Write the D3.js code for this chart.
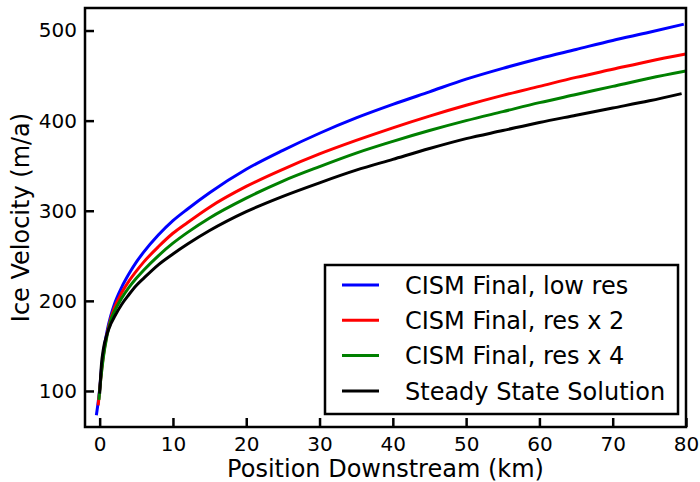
<!DOCTYPE html>
<html>
<head>
<meta charset="utf-8">
<script src="https://cdn.jsdelivr.net/npm/d3@7"></script>
<style>
  body { margin: 0; background: #fff; }
  text { font-family: "DejaVu Sans", sans-serif; }
</style>
</head>
<body>
<div id="chart"></div>
<script>
var w = 700, h = 482;
var margin = {left: 85, right: 14, top: 8, bottom: 55};

// data (km, m/a)
var xLow = [-0.45, 0, 0.25, 0.5, 1, 1.5, 2, 3, 4, 5, 6, 8, 10, 12, 15, 20, 25, 30, 35, 40, 45, 50, 55, 60, 65, 70, 75, 79.7];
var vLow = [73, 102, 125, 142, 166, 183, 196, 215, 230, 243, 254, 273, 289, 302, 320, 346, 367, 386, 403, 418, 432, 446, 458, 469, 479, 489, 498, 507];
var xRes2 = [-0.2, 0, 0.25, 0.5, 1, 1.5, 2, 3, 4, 5, 6, 8, 10, 12, 15, 20, 25, 30, 35, 40, 45, 50, 55, 60, 65, 70, 75, 80];
var vRes2 = [84, 101, 122, 139, 163, 180, 192, 209, 222, 233, 243, 260, 275, 287, 304, 327, 346, 363, 378, 392, 405, 417, 428, 438, 448, 457, 466, 474];
var xRes4 = [-0.1, 0, 0.25, 0.5, 1, 1.5, 2, 3, 4, 5, 6, 8, 10, 12, 15, 20, 25, 30, 35, 40, 45, 50, 55, 60, 65, 70, 75, 80];
var vRes4 = [90, 100, 120, 137, 161, 178, 188, 203, 215, 225, 234, 250, 264, 276, 292, 314, 333, 349, 364, 377, 389, 400, 410, 420, 429, 438, 447, 455];
var xSteady = [0, 0.25, 0.5, 1, 1.5, 2, 3, 4, 5, 6, 8, 10, 12, 15, 20, 25, 30, 35, 40, 45, 50, 55, 60, 65, 70, 75, 79.4];
var vSteady = [97, 130, 146, 163, 174, 182, 196, 207, 217, 225, 240, 252, 263, 278, 299, 316, 331, 345, 357, 369, 380, 389, 398, 406, 414, 422, 430];

var seriesNames = ["CISM Final, low res", "CISM Final, res x 2", "CISM Final, res x 4", "Steady State Solution"];
var seriesColors = ["#0000ff", "#ff0000", "#008000", "#000000"];
var xTicks = [0, 10, 20, 30, 40, 50, 60, 70, 80];
var yTicks = [100, 200, 300, 400, 500];

function drawChart() {
    var svg = d3.select("#chart").append("svg")
        .attr("width", w)
        .attr("height", h);

    var x = d3.scaleLinear().domain([-2, 80]).range([margin.left, w - margin.right]);
    var y = d3.scaleLinear().domain([60, 525]).range([h - margin.bottom, margin.top]);

    var series = [
        {name: seriesNames[0], color: seriesColors[0], xs: xLow, vs: vLow},
        {name: seriesNames[1], color: seriesColors[1], xs: xRes2, vs: vRes2},
        {name: seriesNames[2], color: seriesColors[2], xs: xRes4, vs: vRes4},
        {name: seriesNames[3], color: seriesColors[3], xs: xSteady, vs: vSteady}
    ];

    svg.append("clipPath").attr("id", "clip")
        .append("rect")
        .attr("x", x(-2)).attr("y", y(525))
        .attr("width", x(80) - x(-2)).attr("height", y(60) - y(525));

    var line = d3.line()
        .x(d => x(d[0]))
        .y(d => y(d[1]))
        .curve(d3.curveMonotoneX);

    svg.append("g").attr("clip-path", "url(#clip)")
        .selectAll("path")
        .data(series)
        .enter()
        .append("path")
        .attr("fill", "none")
        .attr("stroke", d => d.color)
        .attr("stroke-width", 3)
        .attr("d", d => line(d.xs.map((v, i) => [v, d.vs[i]])));

    // axes, ticks pointing in
    var xAxis = svg.append("g")
        .attr("transform", `translate(0,${h - margin.bottom})`)
        .call(d3.axisBottom(x).tickValues(xTicks).tickSizeInner(-9).tickSizeOuter(0).tickPadding(10));
    var yAxis = svg.append("g")
        .attr("transform", `translate(${margin.left},0)`)
        .call(d3.axisLeft(y).tickValues(yTicks).tickSizeInner(-9).tickSizeOuter(0).tickPadding(8));

    [xAxis, yAxis].forEach(function (g) {
        g.select(".domain").remove();
        g.selectAll(".tick line").attr("stroke", "#000").attr("stroke-width", 2.5);
        g.selectAll(".tick text")
            .attr("font-family", "DejaVu Sans")
            .attr("font-size", "20px")
            .attr("fill", "#000");
    });

    // frame
    svg.append("rect")
        .attr("x", x(-2)).attr("y", y(525))
        .attr("width", x(80) - x(-2)).attr("height", y(60) - y(525))
        .attr("fill", "none")
        .attr("stroke", "#000")
        .attr("stroke-width", 2.5);

    svg.append("text")
        .attr("x", (x(-2) + x(80)) / 2)
        .attr("y", 477)
        .attr("text-anchor", "middle")
        .attr("font-size", "24px")
        .text("Position Downstream (km)");

    svg.append("text")
        .attr("transform", `translate(29,${(y(60) + y(525)) / 2}) rotate(-90)`)
        .attr("text-anchor", "middle")
        .attr("font-size", "24px")
        .text("Ice Velocity (m/a)");

    // legend
    var legend = svg.append("g").attr("transform", "translate(325,265)");
    legend.append("rect")
        .attr("width", 353).attr("height", 149)
        .attr("fill", "#fff")
        .attr("stroke", "#000")
        .attr("stroke-width", 2.5);

    var items = legend.selectAll("g.item")
        .data(series)
        .enter()
        .append("g")
        .attr("class", "item")
        .attr("transform", (d, i) => `translate(0,${20 + i * 35.3})`);
    items.append("line")
        .attr("x1", 17).attr("x2", 54)
        .attr("stroke", d => d.color)
        .attr("stroke-width", 3);
    items.append("text")
        .attr("x", 80)
        .attr("dy", "0.36em")
        .attr("font-size", "24px")
        .text(d => d.name);
}

window.onload = drawChart;
</script>
</body>
</html>
